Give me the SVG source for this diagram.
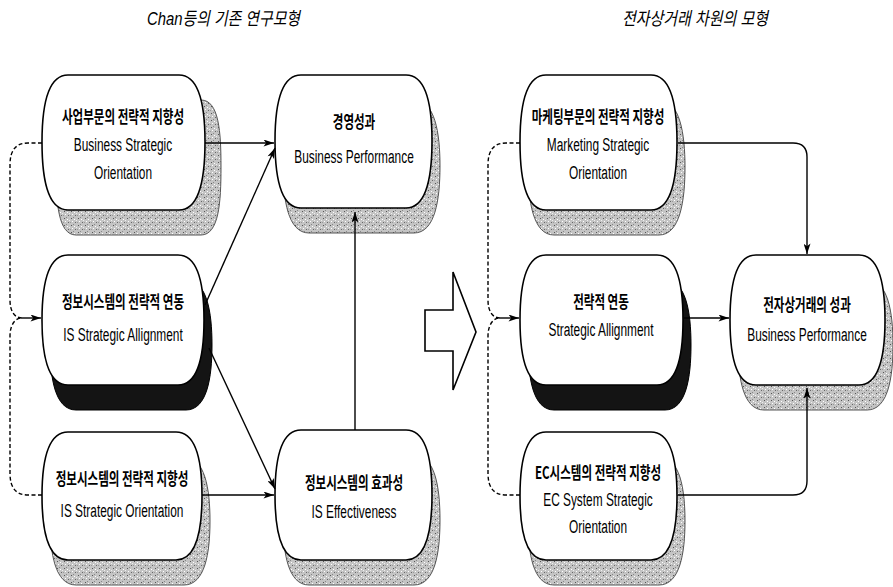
<svg xmlns="http://www.w3.org/2000/svg" width="893" height="587" viewBox="0 0 893 587">
<style>
.t{font-family:"Liberation Sans","Noto Sans CJK KR",sans-serif;font-size:18px;text-anchor:middle;fill:#000}
.k{font-family:"Noto Sans CJK KR","Liberation Sans",sans-serif;font-size:17px;font-weight:700;text-anchor:middle;fill:#000}
.ttl{font-family:"Liberation Sans","Noto Sans CJK KR",sans-serif;font-size:18px;font-style:italic;fill:#000}
.box{fill:#fff;stroke:#000;stroke-width:1.6}
.sh{fill:url(#tex);stroke:#555;stroke-width:1}
.shb{fill:#141414;stroke:#000;stroke-width:1}
.ln{fill:none;stroke:#000;stroke-width:1.4}
.ds{fill:none;stroke:#000;stroke-width:1.4;stroke-dasharray:4 2.5}
</style>
<defs>
<pattern id="tex" width="7" height="7" patternUnits="userSpaceOnUse">
<rect width="7" height="7" fill="#c4c4c4"/>
<rect x="1" y="1" width="1" height="1" fill="#555"/>
<rect x="4" y="2" width="1" height="1" fill="#fff"/>
<rect x="2" y="4" width="1" height="1" fill="#fff"/>
<rect x="5" y="5" width="1" height="1" fill="#666"/>
<rect x="3" y="0" width="1" height="1" fill="#888"/>
<rect x="0" y="5" width="1" height="1" fill="#999"/>
<rect x="6" y="3" width="1" height="1" fill="#eee"/>
</pattern>
<marker id="ah" viewBox="0 0 12 8" refX="12" refY="4" markerWidth="12" markerHeight="7" markerUnits="userSpaceOnUse" orient="auto">
<path d="M0,0 L12,4 L0,8 L3,4 Z" fill="#000"/>
</marker>
</defs>
<rect width="893" height="587" fill="#fff"/>
<text class="ttl" x="147" y="25" textLength="153" lengthAdjust="spacingAndGlyphs">Chan등의 기존 연구모형</text>
<text class="ttl" x="622" y="25" textLength="146" lengthAdjust="spacingAndGlyphs">전자상거래 차원의 모형</text>

<g id="n1">
<path class="sh" d="M76,100 H201 C219,100 221,132 221,167 C221,202 219,235 201,235 H76 C58,235 56,202 56,167 C56,132 58,100 76,100 Z"/>
<path class="box" d="M68,75 H179 C200,75 205,108 205,142 C205,177 200,210 179,210 H68 C47,210 42,177 42,142 C42,108 47,75 68,75 Z"/>
<text class="k" transform="translate(123,123) scale(0.68,1)">사업부문의 전략적 지향성</text>
<text class="t" transform="translate(123,151) scale(0.66,1)">Business Strategic</text>
<text class="t" transform="translate(123,179) scale(0.66,1)">Orientation</text>
</g>

<g id="n2">
<path class="shb" d="M76,280 H186 C207,280 212,312 212,345 C212,378 207,410 186,410 H76 C55,410 50,378 50,345 C50,312 55,280 76,280 Z"/>
<path class="box" d="M68,255 H178 C199,255 204,287 204,320 C204,353 199,385 178,385 H68 C47,385 42,353 42,320 C42,287 47,255 68,255 Z"/>
<text class="k" transform="translate(123,308) scale(0.68,1)">정보시스템의 전략적 연동</text>
<text class="t" transform="translate(123,341) scale(0.66,1)">IS Strategic Allignment</text>
</g>

<g id="n3">
<path class="sh" d="M76,457 H184 C205,457 210,489 210,521 C210,553 205,585 184,585 H76 C55,585 50,553 50,521 C50,489 55,457 76,457 Z"/>
<path class="box" d="M68,432 H176 C197,432 202,464 202,496 C202,528 197,560 176,560 H68 C47,560 42,528 42,496 C42,464 47,432 68,432 Z"/>
<text class="k" transform="translate(122,485) scale(0.68,1)">정보시스템의 전략적 지향성</text>
<text class="t" transform="translate(122,517) scale(0.66,1)">IS Strategic Orientation</text>
</g>

<g id="n4">
<path class="sh" d="M309,100 H414 C435,100 440,133 440,166 C440,200 435,233 414,233 H309 C288,233 283,200 283,166 C283,133 288,100 309,100 Z"/>
<path class="box" d="M301,75 H406 C427,75 432,108 432,141 C432,175 427,208 406,208 H301 C280,208 275,175 275,141 C275,108 280,75 301,75 Z"/>
<text class="k" transform="translate(354,128) scale(0.68,1)">경영성과</text>
<text class="t" transform="translate(354,163) scale(0.66,1)">Business Performance</text>
</g>

<g id="n5">
<path class="sh" d="M309,455 H414 C435,455 440,487 440,520 C440,553 435,585 414,585 H309 C288,585 283,553 283,520 C283,487 288,455 309,455 Z"/>
<path class="box" d="M301,430 H406 C427,430 432,462 432,495 C432,528 427,560 406,560 H301 C280,560 275,528 275,495 C275,462 280,430 301,430 Z"/>
<text class="k" transform="translate(354,489) scale(0.68,1)">정보시스템의 효과성</text>
<text class="t" transform="translate(354,518) scale(0.66,1)">IS Effectiveness</text>
</g>

<g id="n6">
<path class="sh" d="M554,100 H659 C680,100 685,134 685,167 C685,201 680,235 659,235 H554 C533,235 528,201 528,167 C528,134 533,100 554,100 Z"/>
<path class="box" d="M546,75 H651 C672,75 677,109 677,142 C677,176 672,210 651,210 H546 C525,210 520,176 520,142 C520,109 525,75 546,75 Z"/>
<text class="k" transform="translate(598,123) scale(0.68,1)">마케팅부문의 전략적 지향성</text>
<text class="t" transform="translate(598,151) scale(0.66,1)">Marketing Strategic</text>
<text class="t" transform="translate(598,179) scale(0.66,1)">Orientation</text>
</g>

<g id="n7">
<path class="shb" d="M554,280 H665 C686,280 691,312 691,345 C691,378 686,410 665,410 H554 C533,410 528,378 528,345 C528,312 533,280 554,280 Z"/>
<path class="box" d="M546,255 H657 C678,255 683,287 683,320 C683,353 678,385 657,385 H546 C525,385 520,353 520,320 C520,287 525,255 546,255 Z"/>
<text class="k" transform="translate(601,308) scale(0.68,1)">전략적 연동</text>
<text class="t" transform="translate(601,336) scale(0.66,1)">Strategic Allignment</text>
</g>

<g id="n8">
<path class="sh" d="M554,457 H659 C680,457 685,489 685,521 C685,553 680,585 659,585 H554 C533,585 528,553 528,521 C528,489 533,457 554,457 Z"/>
<path class="box" d="M546,432 H651 C672,432 677,464 677,496 C677,528 672,560 651,560 H546 C525,560 520,528 520,496 C520,464 525,432 546,432 Z"/>
<text class="k" transform="translate(598,479) scale(0.68,1)">EC시스템의 전략적 지향성</text>
<text class="t" transform="translate(598,506) scale(0.66,1)">EC System Strategic</text>
<text class="t" transform="translate(598,533) scale(0.66,1)">Orientation</text>
</g>

<g id="n9">
<path class="sh" d="M764,280 H867 C888,280 893,312 893,345 C893,378 888,410 867,410 H764 C743,410 738,378 738,345 C738,312 743,280 764,280 Z"/>
<path class="box" d="M756,255 H859 C880,255 885,287 885,320 C885,353 880,385 859,385 H756 C735,385 730,353 730,320 C730,287 735,255 756,255 Z"/>
<text class="k" transform="translate(807,311) scale(0.68,1)">전자상거래의 성과</text>
<text class="t" transform="translate(807,341) scale(0.66,1)">Business Performance</text>
</g>

<g id="bigarrow">
<polygon points="425,310 453,310 453,272 476,332 453,390 453,351 425,351" fill="#fff" stroke="#000" stroke-width="1.6" stroke-linejoin="miter"/>
</g>

<g id="connectors">
<path class="ds" d="M42,143 H28 C16,143 10,150 10,165 V300 C10,312 15,318 22,318"/>
<path class="ds" d="M42,495 H28 C16,495 10,488 10,473 V336 C10,325 15,318 22,318"/>
<path class="ln" d="M22,318 H41" marker-end="url(#ah)"/>
<path class="ln" d="M205,143 H274" marker-end="url(#ah)"/>
<path class="ln" d="M205,305 L275,148" marker-end="url(#ah)"/>
<path class="ln" d="M209,348 L275,489" marker-end="url(#ah)"/>
<path class="ln" d="M202,495 H274" marker-end="url(#ah)"/>
<path class="ln" d="M355,430 V212" marker-end="url(#ah)"/>

<path class="ds" d="M520,143 H506 C494,143 488,150 488,165 V300 C488,312 493,318 500,318"/>
<path class="ds" d="M520,495 H506 C494,495 488,488 488,473 V336 C488,325 493,318 500,318"/>
<path class="ln" d="M500,318 H519" marker-end="url(#ah)"/>
<path class="ln" d="M678,143 H793 Q807,143 807,157 V254" marker-end="url(#ah)"/>
<path class="ln" d="M684,318 H729" marker-end="url(#ah)"/>
<path class="ln" d="M678,495 H793 Q807,495 807,481 V388" marker-end="url(#ah)"/>
</g>
</svg>
